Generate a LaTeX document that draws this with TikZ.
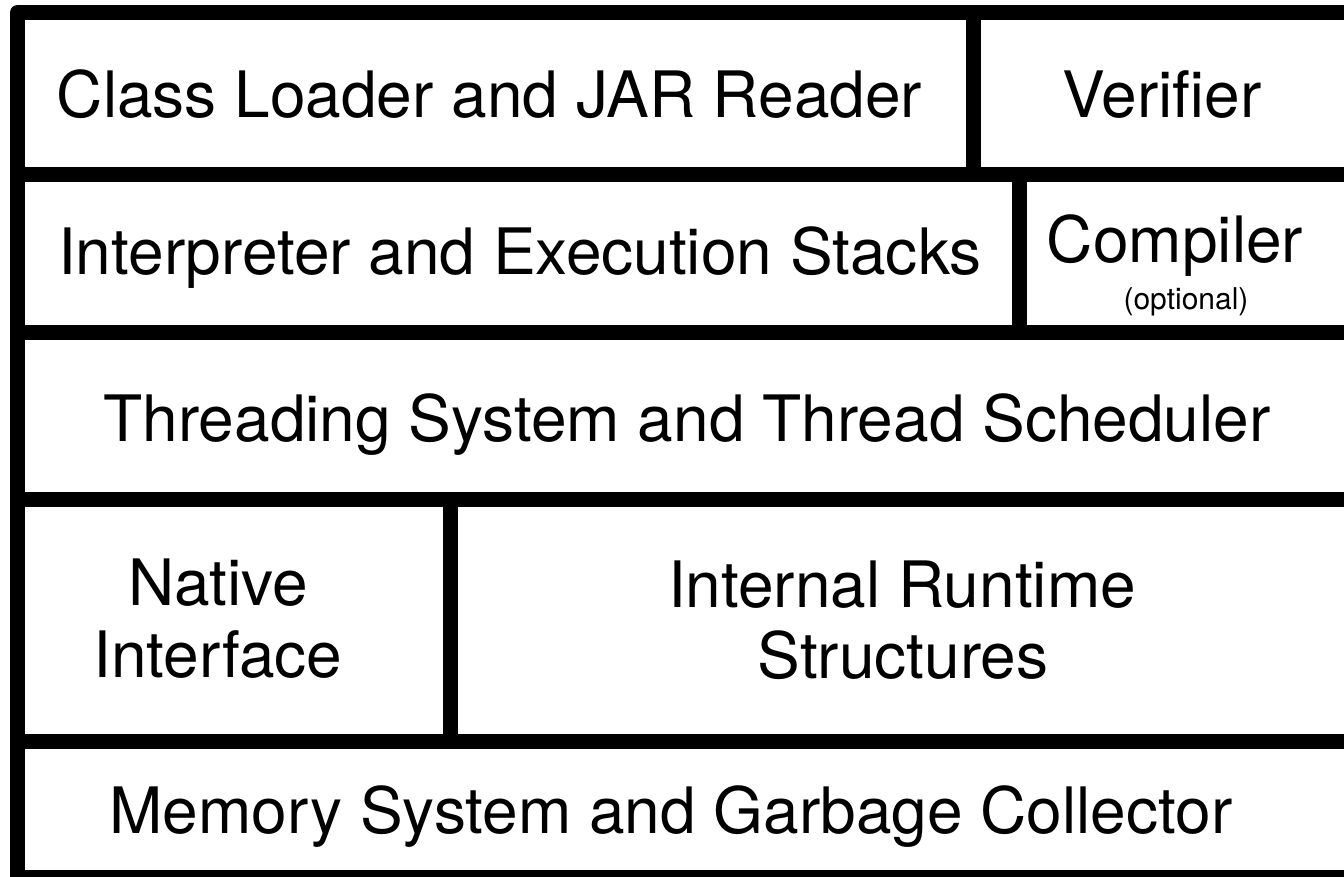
\documentclass[tikz,border=0pt]{standalone}
\usepackage{fontspec}
\setmainfont{TeX Gyre Heros}
\begin{document}
\begin{tikzpicture}[x=1pt,y=-1pt,
  wall/.style={line width=15pt,line join=round},
  lbl/.style={anchor=base,inner sep=0pt,font=\fontsize{64}{72}\selectfont},
  smalllbl/.style={anchor=base,inner sep=0pt,font=\fontsize{30}{34}\selectfont}]
\useasboundingbox (0,0) rectangle (1344,876);
\fill[white] (0,0) rectangle (1344,876);
% outer frame
\draw[wall] (17.5,12.5) rectangle (1351.5,877.5);
% horizontal dividers
\draw[wall] (17.5,174) -- (1351.5,174);
\draw[wall] (17.5,332.5) -- (1351.5,332.5);
\draw[wall] (17.5,499) -- (1351.5,499);
\draw[wall] (17.5,741) -- (1351.5,741);
% vertical dividers
\draw[wall] (973,12.5) -- (973,174);
\draw[wall] (1019,174) -- (1019,332.5);
\draw[wall] (450,499) -- (450,741);
% labels
\node[lbl] (cl) at (489.5,117) {Class Loader and JAR Reader};
\node[lbl] (ver) at (1162,117) {Verifier};
\node[lbl] (interp) at (520,274) {Interpreter and Execution Stacks};
\node[lbl] (comp) at (1175,262) {Compiler};
\node[smalllbl] (opt) at (1186,309) {(optional)};
\node[lbl] (thr) at (687,441) {Threading System and Thread Scheduler};
\node[lbl] (nat1) at (218,605) {Native};
\node[lbl] (nat2) at (218,677) {Interface};
\node[lbl] (irs1) at (902,607) {Internal Runtime};
\node[lbl] (irs2) at (903,678) {Structures};
\node[lbl] (mem) at (671,833) {Memory System and Garbage Collector};
\end{tikzpicture}
\end{document}
